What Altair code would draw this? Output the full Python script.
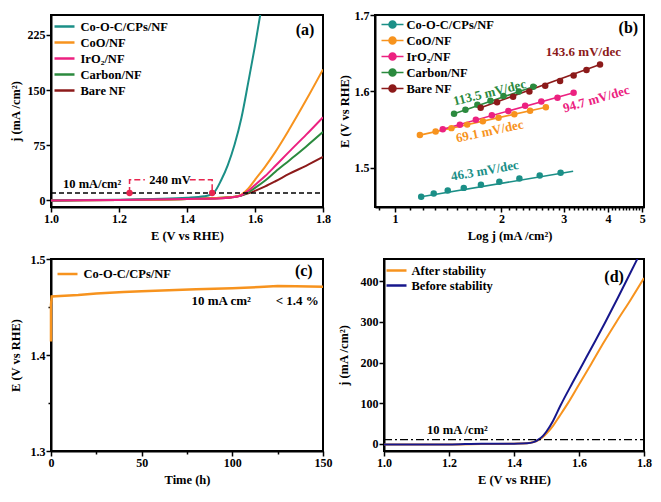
import altair as alt
import pandas as pd

FONT = "Liberation Serif"

# ---------------- (a) polarization curves ----------------
a_series = ["Co-O-C/CPs/NF", "CoO/NF", "IrO₂/NF", "Carbon/NF", "Bare NF"]
a_colors = ["#1b8f87", "#f7931e", "#ec2180", "#2b8a3e", "#8c1a1a"]
a_E_cooc = [1.00, 1.10, 1.20, 1.30, 1.40, 1.45, 1.47, 1.48, 1.50, 1.52, 1.54, 1.56, 1.58, 1.60, 1.62]
a_j_cooc = [0.0, 0.5, 1.0, 2.0, 3.5, 5.5, 8.0, 11.0, 27.0, 48.0, 76.0, 112.0, 160.0, 210.0, 265.0]
a_E_rest = [1.00, 1.20, 1.40, 1.50, 1.54, 1.56, 1.58, 1.60, 1.63, 1.66, 1.70, 1.75, 1.80]
a_j_coo = [0.0, 0.5, 2.0, 3.5, 5.0, 8.0, 16.0, 28.0, 46.0, 66.0, 96.0, 136.0, 178.0]
a_j_iro2 = [0.0, 0.5, 2.0, 3.0, 4.5, 7.0, 13.0, 21.0, 33.0, 47.0, 66.0, 89.0, 113.0]
a_j_carbon = [0.0, 0.5, 2.0, 3.5, 5.0, 7.0, 11.0, 17.0, 27.0, 39.0, 54.0, 73.0, 93.0]
a_j_bare = [0.0, 0.5, 2.0, 3.0, 4.5, 6.5, 9.5, 13.0, 19.0, 26.0, 36.0, 47.0, 59.0]
a_ref_E = [1.0, 1.8]
a_ref_j = [10, 10]
a_br_seg = [0, 0, 0, 1, 1, 1]
a_br_E = [1.231, 1.231, 1.276, 1.408, 1.474, 1.474]
a_br_j = [10, 28, 28, 28, 28, 11]
a_dot_E = [1.231, 1.474]
a_dot_j = [10, 10]
a_txt = ["10 mA/cm²", "240 mV"]
a_txt_E = [1.121, 1.35]
a_txt_j = [22, 28]

# ---------------- (b) Tafel plots ----------------
b_series = a_series
b_colors = a_colors
b_pts = {
    "Co-O-C/CPs/NF": ([1.186, 1.287, 1.41, 1.565, 1.75, 1.973, 2.248, 2.566, 2.94],
                      [1.4624, 1.4665, 1.4705, 1.4740, 1.4782, 1.4821, 1.4862, 1.4902, 1.4937]),
    "CoO/NF": ([1.176, 1.303, 1.444, 1.600, 1.772, 1.963, 2.175, 2.41, 2.671],
               [1.543, 1.5476, 1.5521, 1.5567, 1.5612, 1.5658, 1.5704, 1.5749, 1.5795]),
    "IrO₂/NF": ([1.365, 1.526, 1.693, 1.879, 2.092, 2.334, 2.593, 2.881, 3.2],
                [1.5506, 1.5564, 1.563, 1.569, 1.5745, 1.5815, 1.5868, 1.5918, 1.5984]),
    "Carbon/NF": ([1.469, 1.582, 1.71, 1.862, 2.027, 2.24, 2.46],
                  [1.5710, 1.5762, 1.5827, 1.588, 1.5942, 1.600, 1.6062]),
    "Bare NF": ([1.747, 1.944, 2.158, 2.399, 2.66, 2.93, 3.2, 3.48, 3.80],
                [1.5786, 1.586, 1.593, 1.600, 1.6074, 1.6136, 1.621, 1.628, 1.6354]),
}
b_fit = {
    "Co-O-C/CPs/NF": ([1.186, 3.19], [1.4624, 1.4957]),
    "CoO/NF": ([1.176, 2.671], [1.543, 1.5795]),
    "IrO₂/NF": ([1.365, 3.2], [1.5506, 1.5984]),
    "Carbon/NF": ([1.469, 2.52], [1.5710, 1.6078]),
    "Bare NF": ([1.747, 3.80], [1.5786, 1.6354]),
}
b_txt = ["143.6 mV/dec", "113.5 mV/dec", "94.7 mV/dec", "69.1 mV/dec", "46.3 mV/dec"]
b_txt_j = [3.41, 1.853, 3.71, 1.853, 1.795]
b_txt_E = [1.6519, 1.5984, 1.590, 1.5478, 1.4963]
b_txt_ang = [0, 346, 344, 348, 350]
b_txt_col = ["#8c1a1a", "#2b8a3e", "#ec2180", "#f7931e", "#1b8f87"]
b_xticks = [round(0.9 + 0.1 * i, 1) for i in range(42)]

# ---------------- (c) stability ----------------
c_time = [0, 0, 0.4, 5, 15, 25, 40, 50, 65, 80, 100, 115, 125, 135, 150]
c_E = [1.414, 1.452, 1.461, 1.4615, 1.4625, 1.464, 1.4655, 1.4665, 1.4675, 1.4685, 1.4695, 1.4708, 1.4718, 1.4716, 1.4712]
c_txt = ["10 mA cm²", "< 1.4 %"]
c_txt_t = [93.9, 135.8]
c_txt_E = [1.4564, 1.4564]

# ---------------- (d) before / after ----------------
d_series = ["After stability", "Before stability"]
d_colors = ["#f7931e", "#17178c"]
d_E_after = [1.00, 1.20, 1.30, 1.40, 1.44, 1.46, 1.475, 1.49, 1.50, 1.52, 1.54, 1.566, 1.60, 1.638, 1.675, 1.715, 1.76, 1.80]
d_j_after = [-2, -2, -1, 0, 1, 4, 9, 17, 25, 44, 68, 100, 146, 197, 248, 300, 356, 408]
d_E_before = [1.00, 1.20, 1.30, 1.40, 1.44, 1.46, 1.475, 1.49, 1.50, 1.52, 1.543, 1.58, 1.612, 1.65, 1.68, 1.72, 1.775, 1.79]
d_j_before = [-2, -2, 0, 0, 1, 4, 10, 20, 30, 56, 94, 150, 197, 253, 298, 360, 448, 472]
d_ref_E = [1.0, 1.8]
d_ref_j = [10, 10]
d_txt = ["10 mA /cm²"]
d_txt_E = [1.226]
d_txt_j = [33]

tags = ["(a)", "(b)", "(c)", "(d)"]

# ================= build data frames =================
rows = []
for name, Es, js in [("Bare NF", a_E_rest, a_j_bare), ("Carbon/NF", a_E_rest, a_j_carbon),
                     ("CoO/NF", a_E_rest, a_j_coo), ("Co-O-C/CPs/NF", a_E_cooc, a_j_cooc),
                     ("IrO₂/NF", a_E_rest, a_j_iro2)]:
    for e, j in zip(Es, js):
        rows.append({"series": name, "E": e, "j": j})
df_a = pd.DataFrame(rows)
df_a_ref = pd.DataFrame({"E": a_ref_E, "j": a_ref_j})
df_a_br = pd.DataFrame({"seg": a_br_seg, "idx": list(range(len(a_br_E))), "E": a_br_E, "j": a_br_j})
df_a_dot = pd.DataFrame({"E": a_dot_E, "j": a_dot_j})
df_a_txt = pd.DataFrame({"E": a_txt_E, "j": a_txt_j, "label": a_txt})
df_a_tag = pd.DataFrame({"E": [1.747], "j": [232], "label": [tags[0]]})

rows_p, rows_f = [], []
for name in b_series:
    for x, y in zip(*b_pts[name]):
        rows_p.append({"series": name, "j": x, "E": y})
    for x, y in zip(*b_fit[name]):
        rows_f.append({"series": name, "j": x, "E": y})
df_b_pts = pd.DataFrame(rows_p)
df_b_fit = pd.DataFrame(rows_f)
df_b_txt = pd.DataFrame({"j": b_txt_j, "E": b_txt_E, "label": b_txt, "ang": b_txt_ang, "col": b_txt_col})
df_b_tag = pd.DataFrame({"j": [4.57], "E": [1.6827], "label": [tags[1]]})

df_c = pd.DataFrame({"idx": list(range(len(c_time))), "t": c_time, "E": c_E,
                     "series": ["Co-O-C/CPs/NF"] * len(c_time)})
df_c_txt = pd.DataFrame({"t": c_txt_t, "E": c_txt_E, "label": c_txt})
df_c_tag = pd.DataFrame({"t": [139.4], "E": [1.4871], "label": [tags[2]]})

rows = []
for name, Es, js in [("After stability", d_E_after, d_j_after), ("Before stability", d_E_before, d_j_before)]:
    for e, j in zip(Es, js):
        rows.append({"series": name, "E": e, "j": j})
df_d = pd.DataFrame(rows)
df_d_ref = pd.DataFrame({"E": d_ref_E, "j": d_ref_j})
df_d_txt = pd.DataFrame({"E": d_txt_E, "j": d_txt_j, "label": d_txt})
df_d_tag = pd.DataFrame({"E": [1.708], "j": [411.6], "label": [tags[3]]})


def tsize(test, major=5, minor=3):
    return {"condition": {"test": test, "value": major}, "value": minor}


def txt(df, x, y, size=13, **kw):
    return alt.Chart(df).mark_text(font=FONT, fontWeight="bold", fontSize=size,
                                   align="center", baseline="middle", **kw).encode(
        x=x, y=y, text="label:N")


def line_legend(x, y, pad, lo):
    return alt.Legend(title=None, orient="none", legendX=x, legendY=y, symbolType="M-2,0H2",
                      symbolSize=100, symbolStrokeWidth=2.5, rowPadding=pad, labelOffset=lo)


# ================= panel (a) =================
ax_a_x = alt.Axis(values=[1.0, 1.2, 1.4, 1.6, 1.8], format=".1f", title="E (V vs RHE)")
ax_a_y = alt.Axis(values=[0, 75, 150, 225], title="j (mA /cm²)", minExtent=24, maxExtent=24, titlePadding=5)
xa = alt.X("E:Q", scale=alt.Scale(domain=[1.0, 1.8], nice=False, zero=False), axis=ax_a_x)
ya = alt.Y("j:Q", scale=alt.Scale(domain=[-9, 252], nice=False, zero=False), axis=ax_a_y)
a_lines = alt.Chart(df_a).mark_line(strokeWidth=2, interpolate="monotone", clip=True).encode(
    x=xa, y=ya,
    color=alt.Color("series:N", scale=alt.Scale(domain=a_series, range=a_colors),
                    legend=line_legend(7, 5, 3, 9.5)))
a_ref = alt.Chart(df_a_ref).mark_line(color="black", strokeDash=[5, 3], strokeWidth=1.6).encode(x="E:Q", y="j:Q")
a_br = alt.Chart(df_a_br).mark_line(color="#e8254f", strokeDash=[6, 3], strokeWidth=1.5).encode(
    x="E:Q", y="j:Q", detail="seg:N", order="idx:Q")
a_dot = alt.Chart(df_a_dot).mark_circle(color="#e8254f", size=40, opacity=1).encode(x="E:Q", y="j:Q")
panel_a = alt.layer(a_lines, a_ref, a_br, a_dot,
                    txt(df_a_txt, "E:Q", "j:Q", 12.5),
                    txt(df_a_tag, "E:Q", "j:Q", 16)).properties(width=272, height=192)

# ================= panel (b) =================
b_major = "abs(datum.value - round(datum.value)) < 0.001"
ax_b_x = alt.Axis(values=b_xticks, labelExpr=f"{b_major} ? format(datum.value, 'd') : ''",
                  tickSize=tsize(b_major), title="Log j (mA /cm²)")
ax_b_y = alt.Axis(values=[1.5, 1.6, 1.7], format=".1f", title="E (V vs RHE)",
                  minExtent=21, maxExtent=21, titlePadding=3)
xb = alt.X("j:Q", scale=alt.Scale(type="log", domain=[0.878, 5.06], nice=False), axis=ax_b_x)
yb = alt.Y("E:Q", scale=alt.Scale(domain=[1.449, 1.7], nice=False, zero=False), axis=ax_b_y)
b_leg = alt.Legend(title=None, orient="none", legendX=11, legendY=3,
                   symbolType="M-2,0H2M-0.64,0A0.64,0.64,0,1,0,0.64,0A0.64,0.64,0,1,0,-0.64,0Z",
                   symbolSize=121, symbolStrokeWidth=1.5, rowPadding=1, labelOffset=7.5)
b_col = alt.Color("series:N", scale=alt.Scale(domain=b_series, range=b_colors), legend=b_leg)
b_lines = alt.Chart(df_b_fit).mark_line(strokeWidth=1.6).encode(x=xb, y=yb, color=b_col)
b_points = alt.Chart(df_b_pts).mark_circle(size=42, opacity=1).encode(x="j:Q", y="E:Q", color=b_col)
b_text = alt.Chart(df_b_txt).mark_text(font=FONT, fontWeight="bold", fontSize=13,
                                       align="center", baseline="middle").encode(
    x="j:Q", y="E:Q", text="label:N", angle=alt.Angle("ang:Q", scale=None),
    color=alt.Color("col:N", scale=None))
panel_b = alt.layer(b_lines, b_points, b_text, txt(df_b_tag, "j:Q", "E:Q", 16)).properties(width=269, height=192)

# ================= panel (c) =================
c_major_x = "datum.value % 50 == 0"
c_major_y = "abs(datum.value * 10 - round(datum.value * 10)) < 0.001"
ax_c_x = alt.Axis(values=[0, 25, 50, 75, 100, 125, 150], labelExpr=f"{c_major_x} ? format(datum.value, 'd') : ''",
                  tickSize=tsize(c_major_x), title="Time (h)")
ax_c_y = alt.Axis(values=[1.3, 1.35, 1.4, 1.45, 1.5], labelExpr=f"{c_major_y} ? format(datum.value, '.1f') : ''",
                  tickSize=tsize(c_major_y), title="E (V vs RHE)", minExtent=24, maxExtent=24, titlePadding=5)
xc = alt.X("t:Q", scale=alt.Scale(domain=[0, 150], nice=False), axis=ax_c_x)
yc = alt.Y("E:Q", scale=alt.Scale(domain=[1.3, 1.5], nice=False, zero=False), axis=ax_c_y)
c_line = alt.Chart(df_c).mark_line(strokeWidth=2.5).encode(
    x=xc, y=yc, order="idx:Q",
    color=alt.Color("series:N", scale=alt.Scale(domain=["Co-O-C/CPs/NF"], range=["#f7931e"]),
                    legend=line_legend(10, 8.5, 3, 9.5)))
panel_c = alt.layer(c_line, txt(df_c_txt, "t:Q", "E:Q", 13),
                    txt(df_c_tag, "t:Q", "E:Q", 16)).properties(width=272, height=192)

# ================= panel (d) =================
d_major_x = "round(datum.value * 10) % 2 == 0"
d_major_y = "datum.value % 100 == 0"
ax_d_x = alt.Axis(values=[1.0, 1.1, 1.2, 1.3, 1.4, 1.5, 1.6, 1.7, 1.8],
                  labelExpr=f"{d_major_x} ? format(datum.value, '.1f') : ''",
                  tickSize=tsize(d_major_x), title="E (V vs RHE)")
ax_d_y = alt.Axis(values=[0, 50, 100, 150, 200, 250, 300, 350, 400, 450],
                  labelExpr=f"{d_major_y} ? format(datum.value, 'd') : ''",
                  tickSize=tsize(d_major_y), title="j (mA /cm²)", minExtent=26, maxExtent=26, titlePadding=8)
xd = alt.X("E:Q", scale=alt.Scale(domain=[1.0, 1.8], nice=False, zero=False), axis=ax_d_x)
yd = alt.Y("j:Q", scale=alt.Scale(domain=[-18, 455], nice=False, zero=False), axis=ax_d_y)
d_lines = alt.Chart(df_d).mark_line(strokeWidth=2, interpolate="monotone", clip=True).encode(
    x=xd, y=yd,
    color=alt.Color("series:N", scale=alt.Scale(domain=d_series, range=d_colors),
                    legend=line_legend(6, 5, 2, 8.5)))
d_ref = alt.Chart(df_d_ref).mark_line(color="black", strokeDash=[8, 3, 2, 3], strokeWidth=1.3).encode(x="E:Q", y="j:Q")
panel_d = alt.layer(d_lines, d_ref, txt(df_d_txt, "E:Q", "j:Q", 12.5),
                    txt(df_d_tag, "E:Q", "j:Q", 16)).properties(width=260, height=192)

row1 = alt.hconcat(panel_a, panel_b, spacing=52, bounds="flush").resolve_scale(color="independent").resolve_legend(color="independent")
row2 = alt.hconcat(panel_c, panel_d, spacing=61, bounds="flush").resolve_scale(color="independent").resolve_legend(color="independent")

chart = alt.vconcat(row1, row2, spacing=9).resolve_scale(color="independent").resolve_legend(
    color="independent").properties(padding=0).configure_axis(
    labelFont=FONT, labelFontSize=12, labelFontWeight="bold", labelColor="black",
    titleFont=FONT, titleFontSize=12.5, titleFontWeight="bold", titleColor="black",
    domainColor="black", domainWidth=2, tickColor="black", tickWidth=1.5, tickSize=5,
    labelPadding=1, grid=False, labelFlush=False, labelOverlap=False, titlePadding=5
).configure_view(stroke="black", strokeWidth=2).configure_legend(
    labelFont=FONT, labelFontSize=12.5, labelFontWeight="bold", labelColor="black", padding=0
)

chart.save("out.html", embed_options={"renderer": "svg", "actions": False})
